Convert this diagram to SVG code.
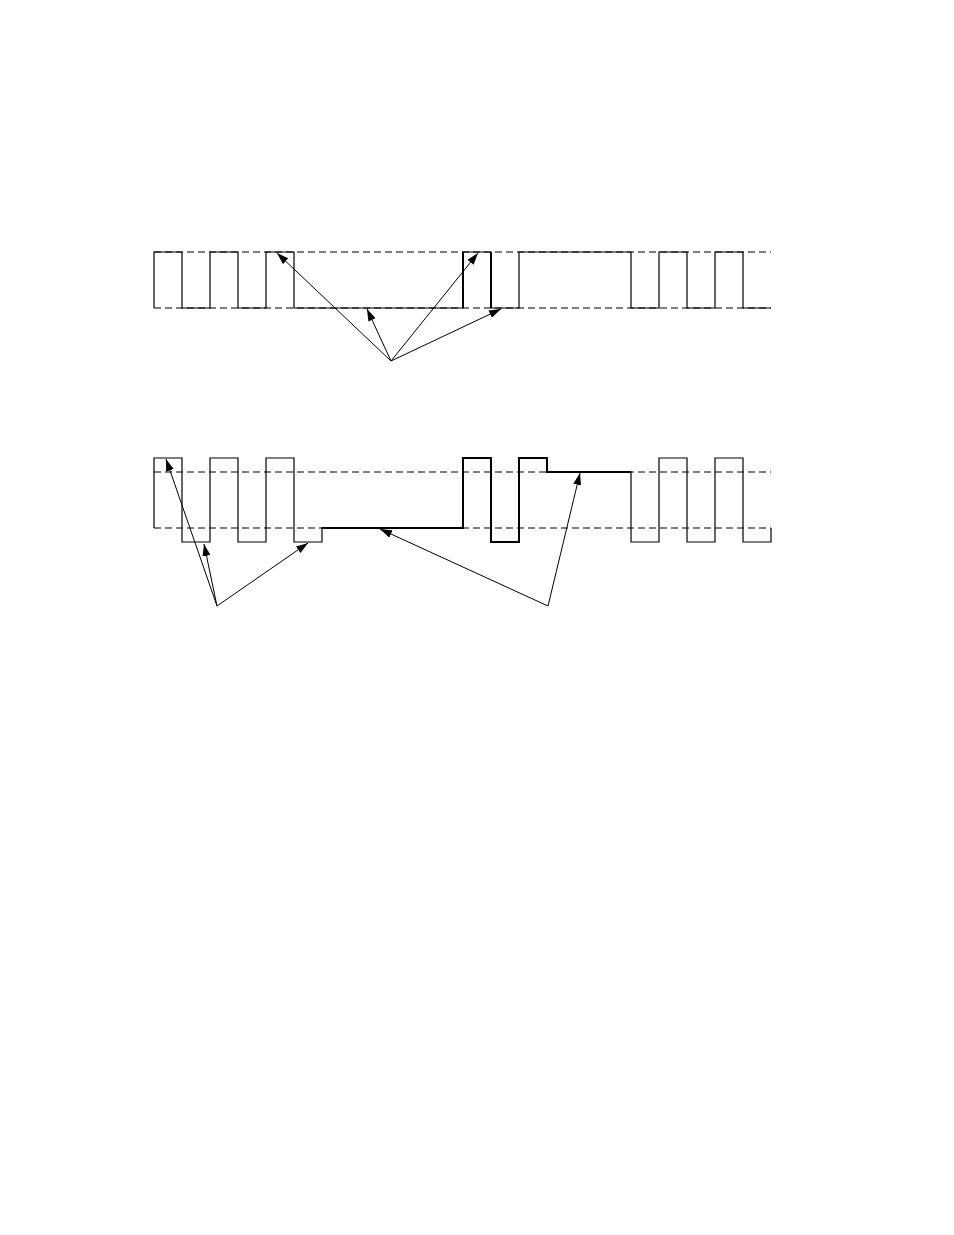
<svg xmlns="http://www.w3.org/2000/svg" width="954" height="1235" viewBox="0 0 954 1235">
<style>
.bg{fill:#fff}
.dash{fill:none;stroke:#000;stroke-width:1;stroke-dasharray:7,4}
.wave{fill:none;stroke:#000;stroke-width:1.2;stroke-linejoin:miter}
.bold{fill:none;stroke:#000;stroke-width:2}
.arrow{fill:none;stroke:#000;stroke-width:1;marker-end:url(#ah)}
</style>
<defs>
<marker id="ah" viewBox="0 0 12 8" refX="12" refY="4" markerWidth="12" markerHeight="8" markerUnits="userSpaceOnUse" orient="auto">
<path d="M0,0 L12,4 L0,8 Z" fill="#000"/>
</marker>
</defs>
<rect class="bg" x="0" y="0" width="954" height="1235"/>
<g id="waveform-top">
<line class="dash" x1="154" y1="252" x2="771" y2="252"/>
<line class="dash" x1="154" y1="308" x2="771" y2="308"/>
<path class="wave" d="M154,308 V252 H182 V308 H210 V252 H238 V308 H266 V252 H294 V308 H463 V252 H491 V308 H519 V252 H631 V308 H659 V252 H687 V308 H715 V252 H743 V308 H771"/>
<line class="bold" x1="463" y1="252" x2="463" y2="308"/>
<line class="bold" x1="491" y1="252" x2="491" y2="308"/>
</g>
<g id="waveform-bottom">
<line class="dash" x1="154" y1="472" x2="771" y2="472"/>
<line class="dash" x1="154" y1="528" x2="771" y2="528"/>
<path class="wave" d="M154,528 V458 H182 V542 H210 V458 H238 V542 H266 V458 H294 V542 H322 V528 H463 V458 H491 V542 H519 V458 H547 V472 H631 V542 H659 V458 H687 V542 H715 V458 H743 V542 H771 V528"/>
<path class="bold" d="M322,528 H463 V458 H491 V542 H519 V458 H547 V472 H631" stroke-width="1.4"/>
</g>
<g id="connectors">
<line class="arrow" x1="391" y1="361" x2="277" y2="253"/>
<line class="arrow" x1="391" y1="361" x2="367" y2="309"/>
<line class="arrow" x1="391" y1="361" x2="478" y2="253"/>
<line class="arrow" x1="391" y1="361" x2="501" y2="309"/>
<line class="arrow" x1="217" y1="606" x2="166" y2="459"/>
<line class="arrow" x1="217" y1="606" x2="204" y2="544"/>
<line class="arrow" x1="217" y1="606" x2="308" y2="543"/>
<line class="arrow" x1="548" y1="606" x2="380" y2="529"/>
<line class="arrow" x1="548" y1="606" x2="580" y2="473"/>
</g>
</svg>
